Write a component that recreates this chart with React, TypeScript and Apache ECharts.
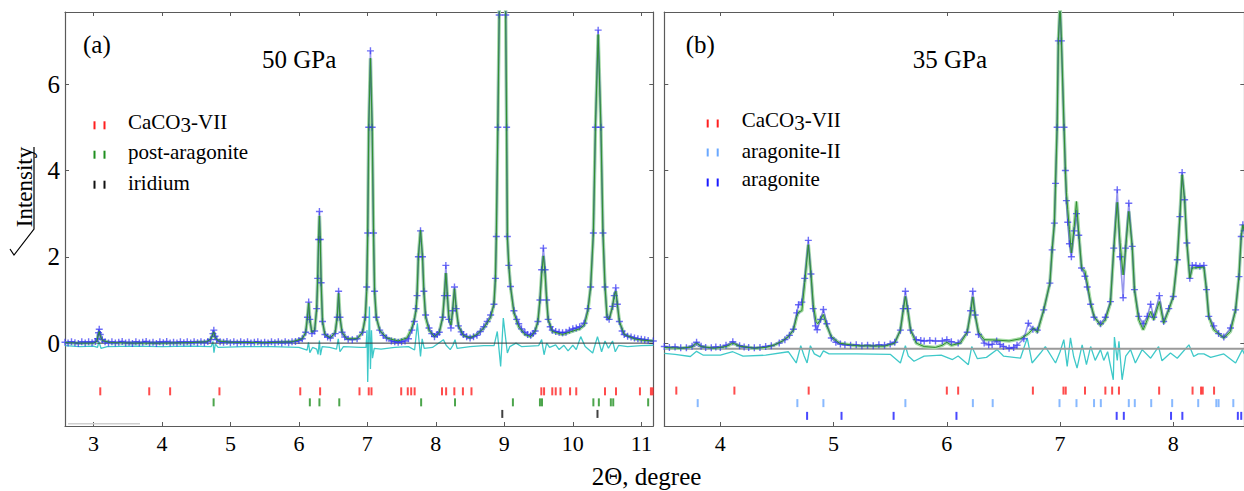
import React, { useEffect, useRef } from "react";
import * as echarts from "echarts";

// ---------- data ----------
const xTicksA = [3, 4, 5, 6, 7, 8, 9, 10, 11];
const xTicksB = [4, 5, 6, 7, 8];
const yTicks = [0, 2, 4, 6];

const calcA: number[][] = [
  [2.585, 0.01], [2.8, 0.0], [3.0, 0.0], [3.05, 0.04], [3.07, 0.18], [3.085, 0.27], [3.1, 0.17], [3.13, 0.06], [3.25, 0.01], [3.6, 0.0], [4.0, 0.0], [4.4, 0.01], [4.65, 0.03], [4.72, 0.1], [4.745, 0.22], [4.758, 0.26], [4.775, 0.14], [4.82, 0.05], [5.0, 0.02], [5.5, 0.01], [5.9, 0.03], [6.05, 0.1], [6.1, 0.25], [6.125, 0.6], [6.143, 0.93], [6.16, 0.55], [6.19, 0.25], [6.23, 0.3], [6.26, 0.8], [6.275, 1.5], [6.288, 2.4], [6.3, 2.95], [6.312, 2.4], [6.325, 1.4], [6.345, 0.5], [6.38, 0.2], [6.46, 0.12], [6.53, 0.25], [6.56, 0.6], [6.58, 1.15], [6.6, 0.6], [6.63, 0.25], [6.7, 0.1], [6.85, 0.1], [6.93, 0.25], [6.97, 0.6], [6.99, 1.2], [7.005, 2.55], [7.02, 5.0], [7.045, 6.6], [7.07, 5.0], [7.09, 2.55], [7.105, 1.2], [7.13, 0.6], [7.18, 0.3], [7.28, 0.12], [7.45, 0.05], [7.58, 0.12], [7.65, 0.35], [7.685, 0.55], [7.71, 0.75], [7.725, 1.1], [7.745, 2.0], [7.776, 2.62], [7.805, 2.0], [7.825, 1.2], [7.85, 0.6], [7.9, 0.3], [7.98, 0.15], [8.05, 0.25], [8.1, 0.6], [8.125, 1.1], [8.146, 1.62], [8.168, 1.1], [8.19, 0.6], [8.22, 0.42], [8.245, 0.75], [8.272, 1.26], [8.297, 0.8], [8.33, 0.4], [8.4, 0.18], [8.5, 0.12], [8.6, 0.2], [8.7, 0.35], [8.8, 0.6], [8.848, 0.9], [8.87, 1.5], [8.883, 2.47], [8.905, 5.0], [8.925, 7.6], [8.97, 14], [9.02, 7.6], [9.033, 5.0], [9.044, 2.47], [9.065, 1.8], [9.09, 1.31], [9.14, 0.7], [9.21, 0.38], [9.3, 0.2], [9.385, 0.15], [9.45, 0.28], [9.49, 0.5], [9.52, 1.0], [9.545, 1.6], [9.57, 2.02], [9.595, 1.6], [9.618, 1.0], [9.64, 0.55], [9.7, 0.27], [9.85, 0.2], [10.0, 0.28], [10.1, 0.33], [10.17, 0.42], [10.22, 0.75], [10.26, 1.3], [10.3, 2.55], [10.33, 5.0], [10.37, 7.15], [10.41, 5.0], [10.44, 2.55], [10.47, 1.3], [10.5, 0.6], [10.53, 0.55], [10.58, 0.85], [10.605, 1.1], [10.627, 1.2], [10.65, 0.9], [10.68, 0.5], [10.75, 0.2], [10.9, 0.1], [11.0, 0.07], [11.175, 0.05],
];

const obsA: number[][] = [
  [2.585, 0.02], [2.63, 0.0], [2.68, 0.03], [2.73, 0.01], [2.78, -0.01], [2.83, 0.03], [2.88, 0.0], [2.93, 0.03], [2.98, 0.01], [3.03, 0.04], [3.06, 0.1], [3.075, 0.24], [3.085, 0.32], [3.1, 0.2], [3.13, 0.08], [3.17, 0.03], [3.22, 0.0], [3.27, 0.03], [3.32, 0.0], [3.37, 0.02], [3.42, 0.04], [3.47, 0.0], [3.52, 0.02], [3.57, -0.01], [3.62, 0.03], [3.67, 0.0], [3.72, 0.02], [3.77, 0.04], [3.82, 0.0], [3.87, 0.02], [3.92, -0.01], [3.97, 0.03], [4.02, 0.01], [4.07, 0.04], [4.12, 0.0], [4.17, 0.02], [4.22, 0.0], [4.27, 0.03], [4.32, 0.01], [4.37, 0.03], [4.42, 0.0], [4.47, 0.03], [4.52, 0.01], [4.57, 0.03], [4.62, 0.01], [4.67, 0.04], [4.71, 0.08], [4.745, 0.22], [4.758, 0.3], [4.775, 0.16], [4.8, 0.08], [4.85, 0.03], [4.9, 0.02], [4.95, 0.04], [5.0, 0.01], [5.05, 0.03], [5.1, 0.0], [5.15, 0.03], [5.2, 0.01], [5.25, 0.03], [5.3, 0.0], [5.35, 0.02], [5.4, 0.03], [5.45, 0.0], [5.5, 0.02], [5.55, 0.0], [5.6, 0.03], [5.65, 0.01], [5.7, 0.03], [5.75, 0.0], [5.8, 0.03], [5.85, 0.01], [5.9, 0.03], [5.95, 0.04], [6.0, 0.06], [6.05, 0.1], [6.1, 0.25], [6.125, 0.6], [6.143, 0.95], [6.16, 0.55], [6.19, 0.22], [6.23, 0.28], [6.26, 0.8], [6.275, 1.5], [6.288, 2.4], [6.3, 3.05], [6.312, 2.4], [6.325, 1.4], [6.345, 0.5], [6.38, 0.2], [6.42, 0.14], [6.46, 0.12], [6.53, 0.22], [6.56, 0.6], [6.58, 1.2], [6.6, 0.6], [6.63, 0.25], [6.67, 0.14], [6.72, 0.09], [6.78, 0.08], [6.85, 0.1], [6.93, 0.25], [6.97, 0.6], [6.99, 1.3], [7.005, 2.55], [7.02, 5.0], [7.045, 6.77], [7.07, 5.0], [7.09, 2.55], [7.105, 1.2], [7.13, 0.6], [7.18, 0.3], [7.23, 0.18], [7.28, 0.12], [7.35, 0.05], [7.4, 0.03], [7.45, 0.02], [7.5, 0.03], [7.55, 0.05], [7.6, 0.1], [7.65, 0.3], [7.685, 0.5], [7.71, 0.8], [7.725, 1.1], [7.745, 2.0], [7.776, 2.6], [7.805, 2.0], [7.825, 1.2], [7.85, 0.65], [7.9, 0.35], [7.94, 0.22], [7.98, 0.15], [8.02, 0.2], [8.05, 0.25], [8.1, 0.6], [8.125, 1.1], [8.146, 1.8], [8.168, 1.1], [8.19, 0.55], [8.22, 0.35], [8.245, 0.75], [8.272, 1.3], [8.297, 0.8], [8.33, 0.4], [8.37, 0.26], [8.4, 0.2], [8.45, 0.15], [8.5, 0.12], [8.55, 0.15], [8.6, 0.18], [8.65, 0.27], [8.7, 0.38], [8.75, 0.5], [8.8, 0.65], [8.848, 0.9], [8.87, 1.5], [8.883, 2.47], [8.905, 5.0], [8.925, 7.6], [8.97, 14], [9.02, 7.6], [9.033, 5.0], [9.044, 2.47], [9.065, 1.8], [9.09, 1.31], [9.14, 0.75], [9.18, 0.55], [9.21, 0.45], [9.25, 0.33], [9.3, 0.25], [9.34, 0.2], [9.385, 0.18], [9.42, 0.22], [9.45, 0.28], [9.49, 0.5], [9.52, 1.0], [9.545, 1.7], [9.57, 2.2], [9.595, 1.7], [9.618, 1.0], [9.64, 0.55], [9.67, 0.38], [9.7, 0.3], [9.75, 0.27], [9.8, 0.25], [9.85, 0.24], [9.9, 0.25], [9.95, 0.3], [10.0, 0.33], [10.05, 0.35], [10.1, 0.38], [10.165, 0.46], [10.22, 0.8], [10.26, 1.3], [10.3, 2.55], [10.33, 5.0], [10.37, 7.25], [10.41, 5.0], [10.44, 2.55], [10.47, 1.3], [10.5, 0.6], [10.53, 0.55], [10.58, 0.85], [10.605, 1.1], [10.627, 1.28], [10.65, 0.9], [10.68, 0.5], [10.72, 0.28], [10.75, 0.2], [10.8, 0.16], [10.85, 0.14], [10.9, 0.12], [10.95, 0.1], [11.0, 0.09], [11.05, 0.08], [11.1, 0.06], [11.175, 0.05],
];

const diffA: number[][] = [
  [2.585, -0.06], [2.8, -0.08], [3.0, -0.07], [3.06, -0.1], [3.08, 0.04], [3.11, -0.12], [3.2, -0.08], [3.6, -0.07], [4.0, -0.08], [4.4, -0.07], [4.72, -0.08], [4.745, 0.04], [4.76, -0.22], [4.78, -0.02], [4.82, -0.1], [5.2, -0.08], [5.6, -0.08], [6.0, -0.1], [6.12, -0.16], [6.14, 0.02], [6.16, -0.22], [6.2, -0.1], [6.26, -0.14], [6.28, -0.26], [6.3, 0.06], [6.315, -0.28], [6.34, -0.08], [6.45, -0.1], [6.55, -0.14], [6.575, 0.1], [6.6, -0.2], [6.65, -0.08], [6.9, -0.1], [6.98, -0.1], [6.995, 0.3], [7.005, -0.9], [7.02, 0.2], [7.03, 0.85], [7.045, -0.6], [7.06, 0.3], [7.075, -0.35], [7.1, -0.12], [7.2, -0.14], [7.4, -0.1], [7.6, -0.08], [7.69, -0.16], [7.73, 0.46], [7.776, -0.31], [7.8, 0.1], [7.83, -0.12], [7.95, -0.1], [8.11, 0.08], [8.15, -0.05], [8.21, -0.15], [8.25, -0.05], [8.28, 0.08], [8.31, -0.12], [8.5, -0.08], [8.7, -0.06], [8.85, -0.06], [8.897, 0.27], [8.946, -0.54], [8.985, 0.58], [9.044, -0.23], [9.08, -0.08], [9.17, 0.0], [9.25, -0.08], [9.5, -0.06], [9.545, 0.08], [9.58, -0.27], [9.618, 0.0], [9.66, -0.1], [9.75, -0.04], [9.8, -0.15], [9.87, -0.05], [9.93, -0.18], [10.0, -0.05], [10.05, -0.15], [10.115, 0.15], [10.18, -0.08], [10.29, -0.23], [10.36, 0.15], [10.42, -0.2], [10.47, 0.05], [10.52, -0.12], [10.58, 0.05], [10.62, -0.2], [10.67, -0.05], [10.8, -0.08], [11.0, -0.06], [11.175, -0.05],
];

const calcB: number[][] = [
  [3.505, -0.1], [3.65, -0.12], [3.75, -0.09], [3.79, 0.0], [3.83, -0.08], [3.95, -0.12], [4.05, -0.08], [4.11, 0.0], [4.17, -0.07], [4.3, -0.12], [4.4, -0.1], [4.48, -0.04], [4.55, 0.05], [4.6, 0.15], [4.645, 0.3], [4.675, 0.62], [4.69, 0.72], [4.72, 0.75], [4.745, 1.4], [4.777, 2.28], [4.8, 1.6], [4.82, 0.9], [4.845, 0.5], [4.86, 0.45], [4.885, 0.55], [4.91, 0.66], [4.94, 0.4], [4.98, 0.15], [5.05, 0.0], [5.2, -0.06], [5.45, -0.07], [5.54, 0.0], [5.59, 0.3], [5.615, 0.75], [5.634, 1.08], [5.655, 0.75], [5.68, 0.3], [5.73, 0.0], [5.8, -0.08], [5.9, -0.1], [5.96, -0.05], [6.0, 0.02], [6.04, -0.05], [6.12, 0.0], [6.18, 0.25], [6.21, 0.7], [6.229, 1.07], [6.25, 0.65], [6.28, 0.25], [6.33, 0.08], [6.44, 0.07], [6.55, 0.05], [6.65, 0.1], [6.72, 0.22], [6.768, 0.35], [6.8, 0.25], [6.856, 0.77], [6.91, 1.39], [6.93, 2.16], [6.95, 2.78], [6.96, 3.7], [6.974, 5.0], [6.985, 7.0], [7.0, 7.85], [7.012, 7.0], [7.035, 5.0], [7.047, 4.0], [7.056, 3.48], [7.068, 3.09], [7.083, 2.63], [7.1, 2.09], [7.125, 2.7], [7.145, 3.28], [7.165, 2.55], [7.19, 1.74], [7.22, 1.66], [7.24, 1.39], [7.27, 0.93], [7.3, 0.62], [7.357, 0.41], [7.4, 0.54], [7.445, 0.93], [7.474, 2.16], [7.505, 3.26], [7.53, 2.32], [7.557, 1.58], [7.578, 2.16], [7.607, 3.05], [7.637, 2.24], [7.657, 1.24], [7.695, 0.54], [7.734, 0.31], [7.77, 0.54], [7.8, 0.73], [7.827, 0.54], [7.877, 0.96], [7.915, 0.46], [7.96, 0.77], [8.0, 1.08], [8.035, 1.93], [8.058, 2.93], [8.078, 3.9], [8.1, 3.32], [8.12, 2.32], [8.146, 1.5], [8.167, 1.74], [8.27, 1.76], [8.293, 1.24], [8.313, 0.62], [8.357, 0.31], [8.446, 0.12], [8.505, 0.27], [8.55, 0.77], [8.58, 1.54], [8.6, 2.47], [8.614, 2.74], [8.627, 2.6],
];

const obsB: number[][] = [
  [3.505, -0.08], [3.55, -0.1], [3.6, -0.09], [3.65, -0.11], [3.7, -0.11], [3.75, -0.07], [3.79, 0.02], [3.83, -0.07], [3.87, -0.1], [3.92, -0.11], [3.96, -0.09], [4.0, -0.1], [4.05, -0.05], [4.11, 0.03], [4.17, -0.06], [4.21, -0.09], [4.25, -0.1], [4.3, -0.11], [4.35, -0.1], [4.4, -0.08], [4.45, -0.06], [4.52, 0.0], [4.57, 0.08], [4.61, 0.18], [4.645, 0.32], [4.675, 0.7], [4.69, 0.89], [4.72, 0.95], [4.745, 1.5], [4.777, 2.38], [4.8, 1.6], [4.82, 0.8], [4.84, 0.4], [4.855, 0.31], [4.885, 0.55], [4.91, 0.78], [4.94, 0.45], [4.98, 0.12], [5.02, 0.02], [5.06, -0.02], [5.1, -0.04], [5.15, -0.05], [5.2, -0.04], [5.25, -0.06], [5.3, -0.05], [5.35, -0.06], [5.4, -0.04], [5.45, -0.05], [5.5, -0.02], [5.54, 0.02], [5.59, 0.3], [5.615, 0.8], [5.634, 1.2], [5.655, 0.8], [5.68, 0.3], [5.73, 0.08], [5.77, 0.06], [5.8, 0.05], [5.85, 0.06], [5.9, 0.05], [5.96, 0.05], [6.0, 0.08], [6.04, 0.03], [6.1, 0.0], [6.18, 0.25], [6.21, 0.75], [6.229, 1.2], [6.25, 0.65], [6.28, 0.2], [6.33, 0.0], [6.37, -0.04], [6.4, -0.03], [6.44, 0.05], [6.47, -0.03], [6.5, -0.08], [6.55, -0.12], [6.59, -0.1], [6.62, -0.05], [6.68, 0.1], [6.72, 0.46], [6.76, 0.32], [6.8, 0.3], [6.856, 0.77], [6.91, 1.39], [6.93, 2.16], [6.95, 2.78], [6.96, 3.7], [6.974, 5.0], [6.985, 7.0], [7.0, 7.85], [7.012, 7.0], [7.035, 5.0], [7.047, 4.0], [7.056, 3.3], [7.068, 2.8], [7.083, 2.3], [7.1, 2.0], [7.125, 2.6], [7.145, 3.0], [7.165, 2.5], [7.19, 1.74], [7.22, 1.55], [7.24, 1.3], [7.27, 0.9], [7.3, 0.6], [7.357, 0.45], [7.4, 0.6], [7.445, 0.96], [7.474, 2.2], [7.505, 3.55], [7.53, 2.0], [7.557, 1.05], [7.578, 2.2], [7.607, 3.24], [7.637, 2.24], [7.657, 1.24], [7.695, 0.62], [7.734, 0.45], [7.77, 0.62], [7.8, 0.9], [7.827, 0.6], [7.877, 1.1], [7.915, 0.5], [7.96, 0.8], [8.0, 1.08], [8.035, 1.93], [8.058, 2.93], [8.078, 3.95], [8.1, 3.32], [8.12, 2.32], [8.146, 1.5], [8.167, 1.8], [8.2, 1.8], [8.235, 1.78], [8.27, 1.8], [8.293, 1.24], [8.313, 0.62], [8.357, 0.4], [8.4, 0.22], [8.446, 0.14], [8.505, 0.35], [8.55, 0.77], [8.58, 1.54], [8.6, 2.47], [8.614, 2.74], [8.627, 2.6],
];

const diffB: number[][] = [
  [3.505, -0.24], [3.6, -0.26], [3.735, -0.31], [3.79, -0.19], [3.85, -0.28], [4.0, -0.28], [4.11, -0.2], [4.2, -0.3], [4.4, -0.28], [4.6, -0.2], [4.67, -0.46], [4.71, -0.06], [4.74, -0.3], [4.766, -0.46], [4.795, -0.06], [4.83, -0.25], [4.88, -0.32], [4.91, -0.18], [4.96, -0.25], [5.2, -0.25], [5.5, -0.26], [5.59, -0.46], [5.634, -0.06], [5.66, -0.3], [5.71, -0.42], [5.8, -0.3], [5.95, -0.28], [6.05, -0.38], [6.1, -0.3], [6.19, -0.5], [6.22, -0.08], [6.27, -0.36], [6.35, -0.33], [6.444, -0.15], [6.5, -0.3], [6.65, -0.35], [6.71, 0.12], [6.753, -0.46], [6.827, -0.23], [6.87, -0.08], [6.96, -0.46], [7.0, -0.2], [7.033, 0.08], [7.063, -0.54], [7.092, 0.12], [7.12, -0.31], [7.15, -0.58], [7.195, -0.04], [7.233, -0.5], [7.27, -0.08], [7.31, -0.4], [7.357, -0.15], [7.386, -0.4], [7.42, -0.2], [7.47, -0.85], [7.48, 0.14], [7.505, -0.4], [7.52, 0.04], [7.548, -0.85], [7.58, -0.3], [7.622, -0.15], [7.665, -0.46], [7.725, -0.15], [7.8, -0.35], [7.87, -0.08], [7.9, -0.41], [7.975, -0.23], [8.035, -0.35], [8.138, -0.04], [8.18, -0.31], [8.22, -0.25], [8.27, -0.25], [8.33, -0.33], [8.446, -0.25], [8.55, -0.46], [8.61, -0.15], [8.627, -0.25],
];

// reflection positions (2Θ)
const caco3VIIa = [3.10, 3.815, 4.12, 4.84, 6.02, 6.31, 6.885, 7.02, 7.06, 7.494, 7.59, 7.64, 7.69, 8.09, 8.15, 8.27, 8.395, 8.52, 9.54, 9.58, 9.70, 9.75, 9.82, 9.96, 10.05, 10.47, 10.63, 10.98, 11.14, 11.165];
const postAragA = [4.755, 6.16, 6.30, 6.59, 7.785, 8.28, 9.125, 9.52, 9.55, 10.30, 10.38, 10.555, 10.59, 11.10];
const iridiumA = [8.97, 10.36];
const caco3VIIb = [3.611, 4.124, 4.78, 6.0, 6.10, 6.76, 7.03, 7.05, 7.22, 7.40, 7.46, 7.52, 7.875, 8.17, 8.245, 8.26, 8.36];
const aragIIb = [3.80, 4.68, 4.91, 5.634, 6.23, 6.405, 6.995, 7.145, 7.30, 7.36, 7.607, 7.66, 7.805, 7.99, 8.22, 8.38, 8.40, 8.53];
const aragB = [4.766, 5.07, 5.53, 6.085, 7.50, 7.563, 7.98, 8.08, 8.57, 8.60];

const xRangeA = [2.585, 11.175];
const xRangeB = [3.505, 8.627];
const yRange = [-1.92, 7.67];
const zeroA = [[2.585, 0], [11.175, 0]];
const zeroB = [[3.505, -0.13], [8.627, -0.13]];
const cornerLineA = [[2.63, -1.87], [3.68, -1.87]];

// ---------- styles ----------
const SERIF = "Liberation Serif";
const AXIS_COLOR = "#5a5a5a";
const PLUS = "path://M4,0H6V4H10V6H6V10H4V6H0V4H4Z";

function rowLevel(vals: number[], level: number) {
  return vals.map((v) => [v, level]);
}

export default function App() {
  const ref = useRef<HTMLDivElement>(null);
  useEffect(() => {
    if (!ref.current) return;
    const chart = echarts.init(ref.current, undefined, { renderer: "svg" });

    const xAxisBase = (grid: number, range: number[], ticks: number[], pos: string, labels: boolean) => ({
      type: "value",
      gridIndex: grid,
      min: range[0],
      max: range[1],
      position: pos,
      axisLine: { show: true, onZero: false, lineStyle: { color: AXIS_COLOR, width: 1.2 } },
      axisTick: { show: true, inside: true, length: 4, customValues: ticks, lineStyle: { color: AXIS_COLOR } },
      axisLabel: labels
        ? { show: true, customValues: ticks, fontFamily: SERIF, fontSize: 22, color: "#000", margin: 6 }
        : { show: false },
      splitLine: { show: false },
    });
    const yAxisBase = (grid: number, pos: string, labels: boolean) => ({
      type: "value",
      gridIndex: grid,
      min: yRange[0],
      max: yRange[1],
      position: pos,
      axisLine: { show: true, onZero: false, lineStyle: { color: AXIS_COLOR, width: 1.2 } },
      axisTick: { show: true, inside: true, length: 4, customValues: yTicks, lineStyle: { color: AXIS_COLOR } },
      axisLabel: labels
        ? { show: true, customValues: yTicks, fontFamily: SERIF, fontSize: 25, color: "#000", margin: 5 }
        : { show: false },
      splitLine: { show: false },
    });

    const profileSeries = (xi: number, yi: number, calc: number[][], obs: number[][], diff: number[][], zero: number[][], zeroColor: string, zeroWidth: number) => [
      {
        type: "line", xAxisIndex: xi, yAxisIndex: yi, data: diff, showSymbol: false, z: 2,
        lineStyle: { color: "#3fc9c9", width: 1.3 },
      },
      {
        type: "line", xAxisIndex: xi, yAxisIndex: yi, data: zero, showSymbol: false, z: 3,
        lineStyle: { color: zeroColor, width: zeroWidth },
      },
      {
        type: "line", xAxisIndex: xi, yAxisIndex: yi, data: calc, showSymbol: false, z: 4,
        lineStyle: { color: "#a6dba6", width: 3.5 },
      },
      {
        type: "line", xAxisIndex: xi, yAxisIndex: yi, data: obs, z: 5,
        symbol: PLUS, symbolSize: 7, showSymbol: true, showAllSymbol: true,
        itemStyle: { color: "rgba(50,50,245,0.7)" },
        lineStyle: { color: "rgba(25,25,215,0.45)", width: 1.6 },
      },
      {
        type: "line", xAxisIndex: xi, yAxisIndex: yi, data: calc, showSymbol: false, z: 6,
        lineStyle: { color: "#2f8f2f", width: 1 },
      },
    ];
    const tickSeries = (xi: number, yi: number, vals: number[], level: number, color: string) => ({
      type: "scatter", xAxisIndex: xi, yAxisIndex: yi, data: rowLevel(vals, level),
      symbol: "rect", symbolSize: [2, 8], itemStyle: { color }, z: 7,
    });

    const legendMark = (x: number, y: number, color: string) => [
      { type: "rect", shape: { x: x - 1, y: y - 4, width: 2, height: 8 }, style: { fill: color } },
      { type: "rect", shape: { x: x + 9, y: y - 4, width: 2, height: 8 }, style: { fill: color } },
    ];
    const txt = (x: number, y: number, text: string, size: number, extra: any = {}) => ({
      type: "text",
      style: { x, y, text, fontFamily: SERIF, fontSize: size, fill: "#000", align: "left", verticalAlign: "middle", ...extra },
    });
    const cacoRich = (x: number, y: number) => ({
      type: "text",
      style: {
        x, y, text: "{n|CaCO}{s|3}{n|-VII}", align: "left", verticalAlign: "middle",
        rich: {
          n: { fontFamily: SERIF, fontSize: 21, fill: "#000", padding: [0, 0, 3, 0] },
          s: { fontFamily: SERIF, fontSize: 21, fill: "#000", padding: [3, 0, 0, 0] },
        },
      },
    });

    const option: any = {
      animation: false,
      backgroundColor: "#fff",
      grid: [
        { left: 65, top: 12, width: 588.3, height: 414, containLabel: false, outerBoundsMode: "none" },
        { left: 664.3, top: 12, width: 580, height: 414, containLabel: false, outerBoundsMode: "none" },
      ],
      xAxis: [
        xAxisBase(0, xRangeA, xTicksA, "bottom", true),
        xAxisBase(0, xRangeA, xTicksA, "top", false),
        xAxisBase(1, xRangeB, xTicksB, "bottom", true),
        xAxisBase(1, xRangeB, xTicksB, "top", false),
      ],
      yAxis: [
        yAxisBase(0, "left", true),
        yAxisBase(0, "right", false),
        yAxisBase(1, "left", false),
        yAxisBase(1, "right", false),
      ],
      series: [
        ...profileSeries(0, 0, calcA, obsA, diffA, zeroA, "#333", 1),
        { type: "line", xAxisIndex: 0, yAxisIndex: 0, data: cornerLineA, showSymbol: false, lineStyle: { color: "#cfcfcf", width: 1.5 }, z: 3 },
        tickSeries(0, 0, caco3VIIa, -1.117, "#ff1f1f"),
        tickSeries(0, 0, postAragA, -1.372, "#1f8f1f"),
        tickSeries(0, 0, iridiumA, -1.64, "#111"),
        ...profileSeries(2, 2, calcB, obsB, diffB, zeroB, "#9a9a9a", 2),
        tickSeries(2, 2, caco3VIIb, -1.10, "#ff1f1f"),
        tickSeries(2, 2, aragIIb, -1.39, "#6aa8ff"),
        tickSeries(2, 2, aragB, -1.685, "#1a1aff"),
      ],
      graphic: [
        txt(83, 44, "(a)", 25),
        txt(262, 59, "50 GPa", 25),
        ...legendMark(94.5, 125.3, "#ff1f1f"),
        ...legendMark(94.5, 154.7, "#1f8f1f"),
        ...legendMark(94.5, 184.7, "#111"),
        cacoRich(128, 123),
        txt(128, 152, "post-aragonite", 21),
        txt(128, 183, "iridium", 21),
        txt(685.7, 44, "(b)", 25),
        txt(912.7, 59, "35 GPa", 25),
        ...legendMark(707.7, 123.5, "#ff1f1f"),
        ...legendMark(707.7, 152.5, "#6aa8ff"),
        ...legendMark(707.7, 182.5, "#1a1aff"),
        cacoRich(741.7, 121.5),
        txt(741.7, 151, "aragonite-II", 21),
        txt(741.7, 179, "aragonite", 21),
        txt(646.5, 476, "2Θ, degree", 25, { align: "center" }),
        {
          type: "text", x: 24, y: 187, rotation: Math.PI / 2,
          style: { x: 0, y: 0, text: "Intensity", fontFamily: SERIF, fontSize: 23, fill: "#000", align: "center", verticalAlign: "middle" },
        },
        {
          type: "polyline",
          shape: { points: [[34, 147], [34, 229], [14, 255], [10, 249]] },
          style: { stroke: "#000", lineWidth: 1.2, fill: "none" },
        },
      ],
    };
    chart.setOption(option);
    return () => chart.dispose();
  }, []);
  return <div ref={ref} style={{ position: "absolute", left: 0, top: 0, width: 1244, height: 491 }} />;
}
